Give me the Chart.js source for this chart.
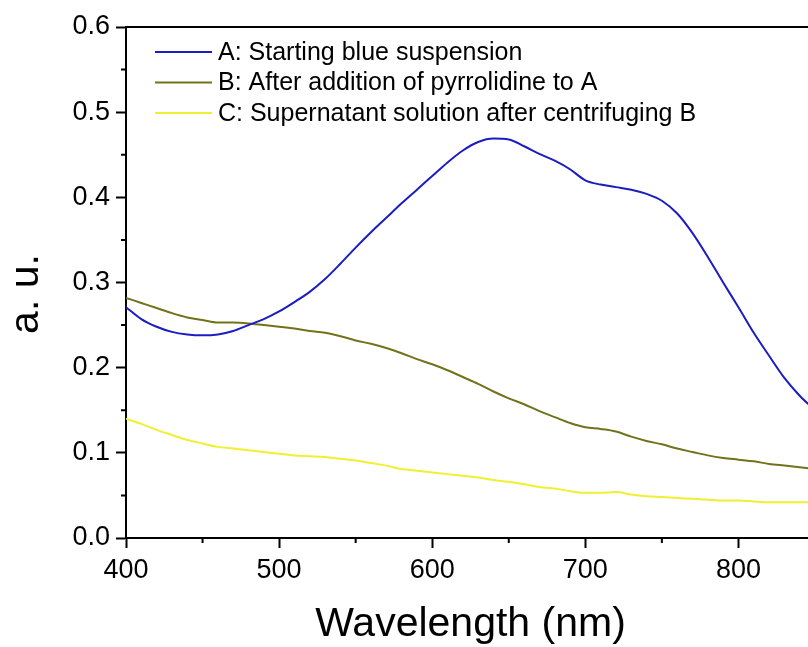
<!DOCTYPE html>
<html lang="en">
<head>
    <meta charset="UTF-8">
    <title>UV-Vis spectra</title>
    <style>
        body {
            margin: 0;
            padding: 0;
            background: #fff;
            overflow: hidden;
        }
        /* the original figure is cropped on the right, so the canvas is a bit wider than the window */
        .chart-box {
            width: 840px;
            height: 647px;
        }
    </style>
</head>
<body>
    <div class="chart-box">
        <canvas id="spectra"></canvas>
    </div>

    <script src="https://cdn.jsdelivr.net/npm/chart.js"></script>
    <script>
        // wavelength (nm)
        const wavelengths = [400, 410, 420, 430, 440, 450, 460, 470, 480, 490,
            500, 510, 520, 530, 540, 550, 560, 570, 580, 590,
            600, 610, 620, 630, 640, 650, 660, 670, 680, 690,
            700, 710, 720, 730, 740, 750, 760, 770, 780, 790,
            800, 810, 820, 830, 840, 850];

        const seriesA = [0.271, 0.257, 0.248, 0.242, 0.239, 0.238, 0.239, 0.243, 0.250, 0.257,
            0.266, 0.277, 0.289, 0.304, 0.322, 0.341, 0.359, 0.376, 0.393, 0.409,
            0.425, 0.441, 0.455, 0.465, 0.469, 0.468, 0.460, 0.451, 0.443, 0.433,
            0.420, 0.415, 0.412, 0.409, 0.404, 0.396, 0.381, 0.358, 0.330, 0.300,
            0.271, 0.241, 0.214, 0.188, 0.167, 0.150];

        const seriesB = [0.282, 0.276, 0.270, 0.264, 0.259, 0.256, 0.253, 0.253, 0.252, 0.250,
            0.248, 0.246, 0.243, 0.241, 0.237, 0.232, 0.228, 0.223, 0.217, 0.210,
            0.204, 0.197, 0.189, 0.181, 0.172, 0.164, 0.157, 0.149, 0.142, 0.135,
            0.130, 0.128, 0.125, 0.119, 0.114, 0.110, 0.105, 0.101, 0.097, 0.094,
            0.092, 0.090, 0.087, 0.085, 0.083, 0.081];

        const seriesC = [0.140, 0.134, 0.127, 0.121, 0.115, 0.111, 0.107, 0.105, 0.103, 0.101,
            0.099, 0.097, 0.096, 0.095, 0.093, 0.091, 0.088, 0.085, 0.081, 0.079,
            0.077, 0.075, 0.073, 0.071, 0.068, 0.066, 0.063, 0.060, 0.058, 0.055,
            0.053, 0.053, 0.054, 0.051, 0.049, 0.048, 0.047, 0.046, 0.045, 0.044,
            0.044, 0.043, 0.042, 0.042, 0.042, 0.042];

        const seriesLabels = [
            'A: Starting blue suspension',
            'B: After addition of pyrrolidine to A',
            'C: Supernatant solution after centrifuging B'
        ];
        const seriesColors = ['#1c1cc0', '#72721c', '#f0f030'];

        const xMinorTicks = [450, 550, 650, 750];
        const yMinorTicks = [0.05, 0.15, 0.25, 0.35, 0.45, 0.55];

        const FONT = 'Liberation Sans, Arial, sans-serif';

        function toPoints(values) {
            return wavelengths.map((w, i) => ({ x: w, y: values[i] }));
        }

        // top frame line, minor ticks, y title and the legend inside the plot
        const framePlugin = {
            id: 'frame',
            afterDraw(chart) {
                const { ctx, chartArea, scales } = chart;
                ctx.save();
                ctx.strokeStyle = '#000';
                ctx.lineWidth = 2;
                ctx.beginPath();
                ctx.moveTo(chartArea.left, chartArea.top);
                ctx.lineTo(chartArea.right, chartArea.top);
                xMinorTicks.forEach(v => {
                    const px = scales.x.getPixelForValue(v);
                    ctx.moveTo(px, chartArea.bottom);
                    ctx.lineTo(px, chartArea.bottom + 5);
                });
                yMinorTicks.forEach(v => {
                    const py = scales.y.getPixelForValue(v);
                    ctx.moveTo(chartArea.left, py);
                    ctx.lineTo(chartArea.left - 5, py);
                });
                ctx.stroke();

                // y axis title, sits a little below the middle in the original
                ctx.fillStyle = '#000';
                ctx.font = '41px ' + FONT;
                ctx.textAlign = 'center';
                ctx.textBaseline = 'middle';
                ctx.translate(27, 294);
                ctx.rotate(-Math.PI / 2);
                ctx.fillText('a. u.', 0, 0);
                ctx.setTransform(1, 0, 0, 1, 0, 0);

                // legend
                ctx.font = '25px ' + FONT;
                ctx.textAlign = 'left';
                chart.data.datasets.forEach((ds, i) => {
                    const y = chartArea.top + 25 + i * 30.5;
                    const x0 = chartArea.left + 29;
                    ctx.strokeStyle = ds.borderColor;
                    ctx.lineWidth = 2;
                    ctx.beginPath();
                    ctx.moveTo(x0, y);
                    ctx.lineTo(x0 + 57, y);
                    ctx.stroke();
                    ctx.fillText(ds.label, x0 + 63, y + 1);
                });
                ctx.restore();
            }
        };

        const ctx = document.getElementById('spectra').getContext('2d');
        const spectraChart = new Chart(ctx, {
            type: 'line',
            data: {
                datasets: [
                    { label: seriesLabels[0], data: toPoints(seriesA), borderColor: seriesColors[0] },
                    { label: seriesLabels[1], data: toPoints(seriesB), borderColor: seriesColors[1] },
                    { label: seriesLabels[2], data: toPoints(seriesC), borderColor: seriesColors[2] }
                ]
            },
            options: {
                responsive: true,
                maintainAspectRatio: false,
                animation: false,
                layout: {
                    padding: { left: 0, top: 27, right: 25, bottom: 0 }
                },
                elements: {
                    point: { radius: 0 },
                    line: { borderWidth: 2, cubicInterpolationMode: 'monotone', fill: false }
                },
                plugins: {
                    legend: { display: false },
                    tooltip: { enabled: false }
                },
                scales: {
                    x: {
                        type: 'linear',
                        min: 400,
                        max: 850,
                        afterFit(scale) { scale.height = 109; },
                        border: { display: true, color: '#000', width: 2 },
                        grid: {
                            drawOnChartArea: false,
                            drawTicks: true,
                            tickLength: 10,
                            tickColor: '#000',
                            tickWidth: 2
                        },
                        ticks: {
                            stepSize: 100,
                            includeBounds: false,
                            padding: 6,
                            color: '#000',
                            font: { family: FONT, size: 27 },
                            maxRotation: 0
                        },
                        title: {
                            display: true,
                            text: 'Wavelength (nm)',
                            color: '#000',
                            font: { family: FONT, size: 41, lineHeight: 1 },
                            padding: { top: 0, bottom: 2 }
                        }
                    },
                    y: {
                        min: 0,
                        max: 0.6,
                        afterFit(scale) { scale.width = 126; },
                        border: { display: true, color: '#000', width: 2 },
                        grid: {
                            drawOnChartArea: false,
                            drawTicks: true,
                            tickLength: 10,
                            tickColor: '#000',
                            tickWidth: 2
                        },
                        ticks: {
                            stepSize: 0.1,
                            padding: 6,
                            color: '#000',
                            font: { family: FONT, size: 27 },
                            callback: v => v.toFixed(1)
                        }
                    }
                }
            },
            plugins: [framePlugin]
        });
    </script>
</body>
</html>
